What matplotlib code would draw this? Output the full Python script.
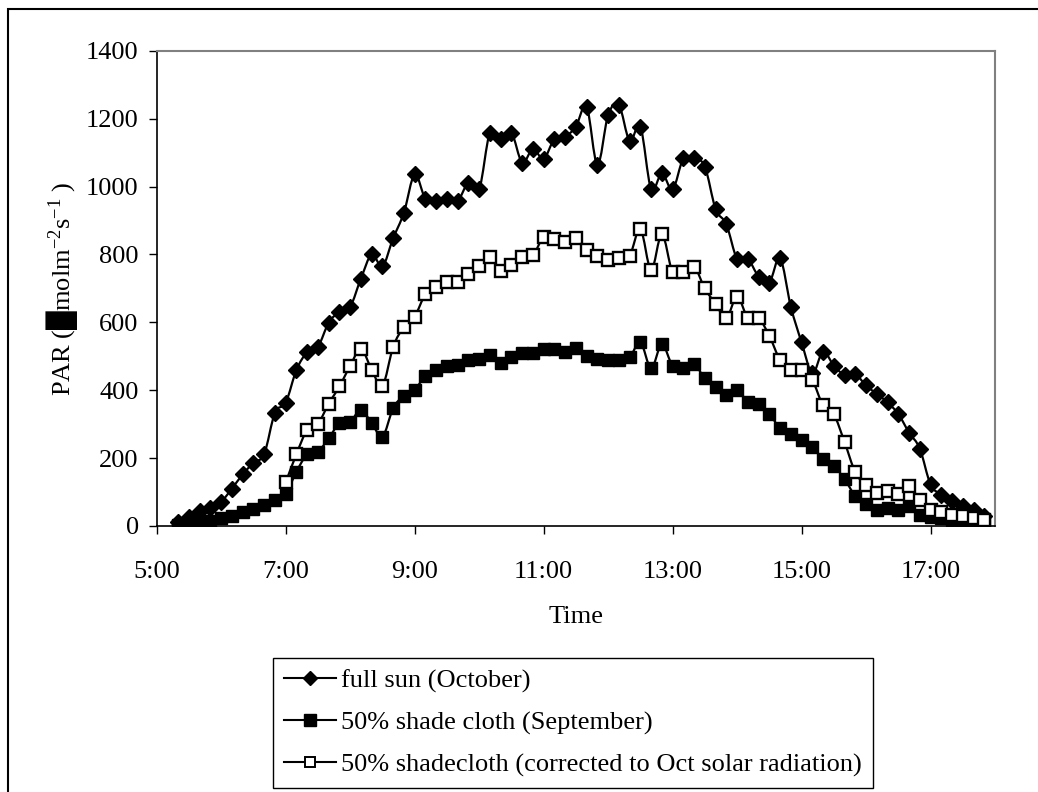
import numpy as np
import matplotlib
matplotlib.use("Agg")
import matplotlib.pyplot as plt
from matplotlib.path import Path
from matplotlib.patches import PathPatch, Rectangle
from matplotlib.lines import Line2D

plt.rcParams["font.family"] = ["Liberation Serif", "DejaVu Sans"]
plt.rcParams["mathtext.fontset"] = "custom"
plt.rcParams["mathtext.rm"] = "Liberation Serif"
plt.rcParams["mathtext.default"] = "regular"

FS = 19

# readings every 10 minutes, 5:20 -> 17:50 (minutes after midnight)
time_min = np.arange(320, 1071, 10)
hours = time_min / 60.0

full_sun = [10, 27, 43, 52, 71, 110, 152, 186, 212, 334,
            363, 460, 512, 528, 599, 631, 646, 729, 800, 765,
            848, 923, 1036, 964, 958, 963, 958, 1011, 992, 1159,
            1140, 1159, 1071, 1111, 1082, 1140, 1147, 1177, 1236, 1064,
            1211, 1241, 1135, 1177, 993, 1039, 992, 1083, 1083, 1059,
            934, 889, 787, 787, 735, 717, 789, 646, 541, 450,
            514, 472, 445, 447, 414, 389, 364, 330, 275, 228,
            122, 92, 72, 58, 48, 30]

shade_sept = [3, 5, 10, 15, 22, 30, 40, 50, 62, 75,
              94, 160, 211, 219, 258, 303, 307, 342, 303, 263,
              347, 384, 401, 443, 460, 470, 474, 489, 491, 504,
              479, 497, 509, 509, 522, 522, 514, 524, 500, 492,
              489, 489, 497, 541, 465, 535, 472, 465, 476, 435,
              409, 386, 401, 366, 359, 330, 288, 270, 253, 234,
              196, 177, 138, 88, 65, 47, 52, 48, 60, 32,
              26, 22, 17, 9, 6, 7]

# corrected series starts at 7:00
shade_corr = [128, 212, 283, 301, 360, 411, 472, 522, 460, 413,
              528, 587, 617, 683, 705, 720, 720, 742, 767, 794,
              751, 769, 793, 798, 851, 846, 836, 848, 813, 796,
              784, 789, 796, 875, 754, 860, 747, 747, 764, 700,
              654, 613, 676, 613, 613, 560, 489, 460, 460, 430,
              355, 329, 247, 158, 120, 97, 103, 93, 118, 75,
              48, 40, 33, 28, 22, 16]
corr_hours = hours[10:]

x_ticks = [5, 7, 9, 11, 13, 15, 17]
x_tick_labels = ["5:00", "7:00", "9:00", "11:00", "13:00", "15:00", "17:00"]
y_ticks = [0, 200, 400, 600, 800, 1000, 1200, 1400]

labels = ["full sun (October)",
          "50% shade cloth (September)",
          "50% shadecloth (corrected to Oct solar radiation)"]


def smooth_path(x, y):
    """Smoothed line through the points (cubic Bezier, like Excel)."""
    pts = np.column_stack([x, y]).astype(float)
    n = len(pts)
    verts = [pts[0]]
    codes = [Path.MOVETO]
    for k in range(n - 1):
        p0 = pts[k - 1] if k > 0 else pts[k]
        p1 = pts[k]
        p2 = pts[k + 1]
        p3 = pts[k + 2] if k + 2 < n else pts[k + 1]
        verts += [p1 + (p2 - p0) / 6.0, p2 - (p3 - p1) / 6.0, p2]
        codes += [Path.CURVE4] * 3
    return Path(verts, codes)


fig = plt.figure(figsize=(10.38, 7.92), dpi=100)
ax = fig.add_axes([0.151, 0.336, 0.8076, 0.5997])

series = [
    (hours, full_sun, dict(marker="D", ms=8.5, mfc="black", mec="black")),
    (hours, shade_sept, dict(marker="s", ms=9, mfc="black", mec="black")),
    (corr_hours, shade_corr, dict(marker="s", ms=8.5, mfc="white",
                                  mec="black", mew=1.7)),
]
for k, (xs, ys, style) in enumerate(series):
    ax.add_patch(PathPatch(smooth_path(xs, ys), fill=False, lw=1.6,
                           edgecolor="black", zorder=2 + k))
    ax.plot(xs, ys, ls="none", zorder=2 + k, **style)

ax.set_xlim(5, 18)
ax.set_ylim(0, 1400)
ax.set_xticks(x_ticks)
ax.set_xticklabels(x_tick_labels)
ax.set_yticks(y_ticks)

for side in ["top", "right"]:
    ax.spines[side].set_color("#808080")
    ax.spines[side].set_linewidth(1.5)
for side in ["left", "bottom"]:
    ax.spines[side].set_color("black")
    ax.spines[side].set_linewidth(1.2)

ax.tick_params(axis="both", direction="out", length=6, width=1,
               labelsize=FS, color="black")
ax.tick_params(axis="x", pad=19)
ax.tick_params(axis="y", pad=7)

ax.set_xlabel("Time", fontsize=FS, labelpad=17)
ax.set_ylabel("PAR (\u2588molm$^{-2}$s$^{-1}$ )", fontsize=FS, labelpad=4)

handles = [
    Line2D([], [], color="black", lw=1.5, marker="D", ms=7, mfc="black"),
    Line2D([], [], color="black", lw=1.5, marker="s", ms=8, mfc="black"),
    Line2D([], [], color="black", lw=1.5, marker="s", ms=7.5, mfc="white",
           mew=1.4),
]
leg = fig.legend(handles, labels, loc="upper center",
                 bbox_to_anchor=(573 / 1038, 1 - 658 / 792),
                 fontsize=FS, frameon=True, fancybox=False,
                 edgecolor="black", framealpha=1, borderpad=0.42,
                 handlelength=1.95, handletextpad=0.2, labelspacing=0.68,
                 borderaxespad=0)
leg.get_frame().set_linewidth(1.0)

# outer frame of the chart area (runs off the right and bottom edges)
fig.patches.append(Rectangle((8 / 1038, -0.2), 1.3, 1.2 - 9 / 792,
                             transform=fig.transFigure, fill=False,
                             edgecolor="black", lw=1.5))

fig.savefig("out.png", dpi=100)
